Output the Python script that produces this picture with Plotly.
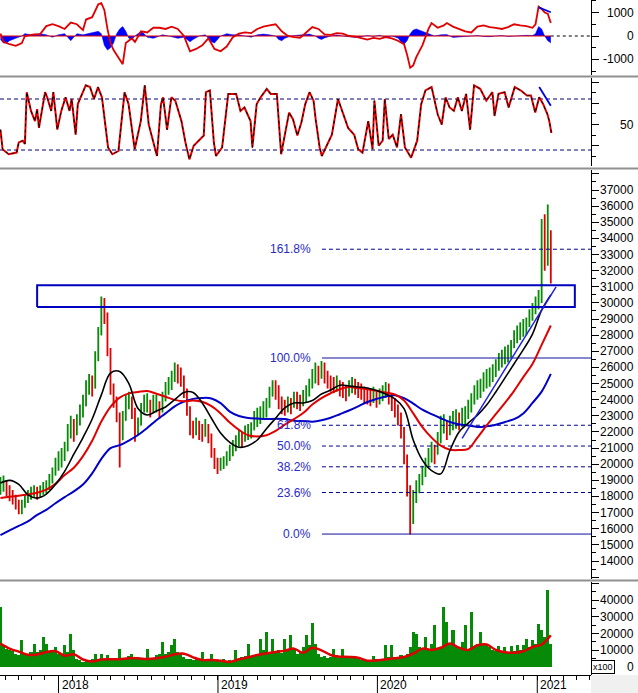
import pandas as pd
import plotly.graph_objects as go

BASE = pd.Timestamp("2017-08-21")   # first weekly bar

# ---------------- weekly price bars ----------------
close = [18600,18900,18500,18100,17900,17600,17200,17400,17700,18000,
         18200,18300,18100,18300,18500,18600,18900,19300,19900,20100,
         20400,20800,21800,22300,22000,22500,23000,23600,24400,25000,
         24700,26400,28000,29600,29200,27000,24800,24000,23000,21500,
         22700,23600,24000,23300,21900,22400,23300,23700,23800,23300,
         23700,23800,23200,23900,24500,24800,25200,25800,25600,25400,
         24600,23500,22300,22000,22400,22000,21900,22300,21800,20800,
         20200,19800,20000,20100,20300,20700,21000,21300,21600,21500,
         21900,22000,22100,22700,22900,23000,23300,23500,24200,24900,
         24700,23800,23600,23500,23700,23600,24000,23900,23800,24100,
         24300,24800,25300,25700,25500,25900,25600,25100,25000,24900,
         25000,24700,24600,24400,24700,24900,24800,24600,24500,24300,
         24200,24100,24300,24000,24200,24400,24700,24200,23800,23500,
         23000,22100,20500,18600,16600,17800,18400,18900,19300,19800,
         20400,20800,20600,21300,22300,22500,22000,22400,22700,22800,
         22600,22900,23000,23400,23800,24300,24600,24700,25200,25300,
         25400,25700,26000,26400,26600,26800,26900,27200,27800,28100,
         28300,28500,28600,29100,29500,29900,30200,34300,32600,34200,
         31800]
high = [19200,19300,19000,18700,18400,18100,17800,17800,18100,18400,
        18600,18700,18600,18700,18900,19000,19400,19800,20400,20800,
        21000,21400,22500,23000,22800,23100,23700,24300,25200,25600,
        25500,27000,28500,30400,30300,29400,27200,25000,24200,23200,
        23300,24300,24500,24200,23500,22900,23800,24300,24400,24000,
        24300,24300,23900,24500,25100,25400,25800,26300,26200,26000,
        25500,24700,23600,22700,22900,22700,22500,22800,22500,21900,
        21000,20400,20400,20500,20800,21200,21500,21800,22100,22000,
        22400,22500,22600,23300,23500,23600,23900,24100,24800,25200,
        25200,24900,24200,24000,24200,24100,24500,24500,24300,24600,
        24900,25300,25900,26300,26100,26400,26300,25800,25500,25400,
        25500,25200,25100,24900,25200,25400,25300,25100,25000,24800,
        24700,24600,24800,24500,24700,24900,25100,25000,24400,24100,
        23700,23200,22300,20600,18700,18400,19000,19400,19900,20400,
        21000,21400,21200,22000,23000,23100,22700,23000,23300,23400,
        23200,23500,23600,24000,24400,24900,25200,25300,25700,25900,
        26000,26200,26500,26900,27100,27300,27400,27700,28300,28600,
        28800,29000,29100,29600,30000,30400,30800,35200,35500,36100,
        34500]
low = [18100,18300,18000,17700,17500,17200,16900,16900,17300,17600,
       17800,17900,17800,17900,18100,18200,18400,18800,19300,19600,
       19800,20200,21000,21600,21400,21800,22400,22900,23800,24300,
       24200,25200,26800,28500,28700,26700,24300,23500,22600,19800,
       21500,22700,23400,22800,21400,21800,22400,23200,23200,22900,
       23200,23200,22800,23200,23900,24300,24600,25100,25000,24800,
       24100,23000,21800,21600,21800,21500,21400,21700,21300,20400,
       19700,19400,19600,19700,19900,20200,20500,20800,21100,21000,
       21400,21500,21600,22100,22300,22500,22800,22900,23600,24200,
       24000,23400,23100,23000,23200,23100,23500,23400,23300,23600,
       23800,24200,24700,25000,24900,25300,25000,24700,24500,24400,
       24500,24200,24100,23900,24200,24400,24300,24100,24000,23800,
       23700,23600,23800,23500,23700,23900,24100,23700,23300,22900,
       22400,21600,20000,18000,15650,16300,17600,18200,18700,19200,
       19800,20100,20000,20700,21600,21900,21500,21800,22100,22200,
       22100,22300,22400,22800,23200,23700,24000,24100,24500,24700,
       24800,25100,25400,25800,26000,26200,26300,26600,27200,27500,
       27700,27900,28000,28500,28900,29300,29600,30000,32000,32300,
       31200]

# ---------------- moving averages (every 3 weeks) ----------------
ma_black = [18830,19000,18750,18100,17900,18150,18750,19560,20620,21650,
            22800,24300,25650,25750,25000,23450,23050,23300,23550,24000,
            24450,24450,23800,22850,21930,21350,21050,21150,21500,22200,
            22850,23500,23800,23800,23950,24350,24600,24900,24850,24790,
            24730,24570,24350,24050,23450,21500,20250,19600,19400,20850,
            22000,22550,23040,23670,24480,25350,26230,27100,28070,29550,
            30500]
ma_red = [17900,17980,18050,18120,18230,18420,18780,19330,19780,20500,
          21450,22650,23560,24130,24390,24480,24540,24370,24180,23990,
          23900,23950,23870,23600,23150,22580,22130,21800,21720,21800,
          22070,22450,22800,23170,23700,24100,24400,24650,24780,24720,
          24650,24550,24440,24320,23950,23150,22300,21650,21150,20900,
          20880,20950,21650,22400,23100,23800,24550,25400,26220,27400,
          28600]
ma_blue = [15610,15900,16180,16450,16860,17170,17580,17960,18320,18740,
           19430,20330,21000,21180,21470,21810,22250,22730,23150,23590,
           23880,24050,24110,24080,23790,23260,22990,22870,22830,22800,
           22820,22800,22700,22680,22640,22720,22880,23100,23330,23590,
           23860,24040,24200,24280,24100,23760,23380,23100,22850,22620,
           22480,22400,22310,22350,22450,22620,22790,23150,23800,24500,
           25600]

# ---------------- Fibonacci, zone, trend ----------------
fib_low, fib_high = 15670, 26584
fib_pct = [0.0, 23.6, 38.2, 50.0, 61.8, 100.0, 161.8]
fib_labels = ["0.0%", "23.6%", "38.2%", "50.0%", "61.8%", "100.0%", "161.8%"]
fib_start = "2019-08-27"
zone_dates = ["2017-11-13", "2021-03-28"]
zone_vals = [29750, 31100]
trend_dates = ["2020-07-13", "2021-02-13"]
trend_vals = [21600, 31000]

# ---------------- top indicator panel ----------------
macd_week = [0,1,3,5,7,8,11,13,15,17,19,21,23,25,27,28,30,32,33,34,35,36,37,39,40,41,43,44,
             46,48,50,52,54,56,58,60,62,64,66,68,70,72,74,76,78,80,82,84,86,88,90,92,94,96,98,100,
             102,104,106,108,110,112,114,116,118,120,122,124,126,128,130,132,133,134,135,136,
             138,140,141,143,145,146,148,150,152,154,156,158,160,162,164,166,168,170,172,174,
             175,176,177,178,179,180]
macd_vals = [100,-250,-350,-420,-300,0,70,80,420,500,420,300,570,500,250,700,800,1350,1400,1100,
             300,-300,-600,-1000,-1200,-300,-100,-250,200,150,350,350,300,400,300,0,-650,-550,-400,
             -100,-550,-650,-450,-50,100,150,120,300,400,450,500,200,0,-50,-80,150,380,300,70,50,
             120,100,0,-30,-100,-150,-80,-120,-50,-100,-200,-350,-800,-1350,-1250,-900,-400,300,
             550,350,450,550,400,300,200,150,400,450,380,350,300,380,500,450,420,350,500,1250,
             1150,1000,950,550]
hist_week = [0,1,2,3,5,7,8,10,13,15,17,19,21,23,24,25,27,29,31,32,33,34,35,36,37,38,39,40,41,42,
             43,44,46,47,48,50,51,53,55,58,60,61,62,63,65,67,68,69,70,71,72,74,76,78,80,82,84,86,
             88,90,91,92,93,95,97,99,101,103,104,105,106,108,110,112,114,116,118,120,122,124,126,
             128,130,131,132,133,134,135,136,137,138,139,140,142,144,146,148,150,152,154,156,158,
             160,162,164,166,168,170,172,174,175,176,177,178,179,180]
hist_vals = [-150,-300,-300,-200,-100,0,100,50,100,50,-50,50,100,-200,-50,100,50,100,150,200,100,
             -400,-600,-500,-300,100,300,400,200,-100,-150,0,200,100,-50,-100,-50,50,0,-100,-50,
             -150,-250,-150,0,50,-100,-250,-300,-150,0,100,50,50,0,-50,50,80,50,0,-150,-200,-100,
             0,30,50,80,0,-100,-150,-80,0,40,0,-30,-60,-30,20,-20,30,-50,0,-80,-250,-350,-200,100,
             250,300,250,200,150,100,0,50,60,-60,-40,0,0,20,-20,-30,0,20,-20,0,10,30,20,100,400,
             300,0,-200,-300]
macd_seg_week = [176, 180]
macd_seg_vals = [1220, 1010]

# ---------------- oscillator panel ----------------
osc_week = [0.0,0.7,2.7,5.3,6.0,7.3,8.0,8.6,10.0,11.3,12.0,12.6,14.6,15.3,16.6,17.3,18.6,19.9,21.3,
            22.6,23.3,24.6,25.3,26.6,27.9,29.3,30.6,31.9,33.2,35.2,36.6,38.6,40.6,41.9,43.9,45.9,
            47.2,48.5,51.2,52.5,53.2,54.5,55.9,57.2,59.2,60.5,61.8,63.2,65.2,66.5,67.2,68.5,69.8,
            70.5,72.5,74.5,77.1,78.5,79.8,81.8,82.4,83.8,85.1,87.1,88.4,90.4,91.8,93.1,94.4,95.7,
            97.1,98.4,99.7,101.1,102.4,103.1,104.4,105.1,106.4,108.4,110.4,111.7,113.7,115.7,117.0,
            118.4,120.3,121.7,122.3,123.7,125.0,125.7,127.0,128.3,129.7,131.0,132.3,134.3,136.3,
            137.6,139.0,141.0,143.0,144.3,145.6,146.9,148.3,149.6,150.9,152.3,153.6,154.9,156.9,
            158.9,160.9,161.6,162.9,164.9,166.2,168.2,170.2,172.2,173.5,174.9,176.2,177.5,178.9,
            179.5,180.2]
osc_vals = [44,21,15,17,29,31,27,88,66,54,68,46,88,82,66,88,44,66,82,66,80,38,74,86,96,94,80,94,82,
            23,15,19,88,74,21,54,96,50,13,74,82,44,82,78,54,29,9,25,33,37,88,90,29,13,23,86,86,66,
            70,54,23,74,82,92,86,86,15,42,64,56,37,52,74,88,78,56,23,13,23,38,80,66,46,38,21,17,54,
            21,78,25,31,80,33,38,23,62,23,11,31,74,90,94,62,50,82,70,66,82,66,86,44,96,92,78,88,60,
            86,88,70,94,90,84,84,64,82,74,62,54,40]
osc_seg_week = [176.2, 180.0]
osc_seg_vals = [94, 72]

# ---------------- volume (x100) ----------------
volume = [36000,13000,11000,10000,9500,8000,7000,16000,7500,7000,
          9000,14000,9000,10000,18000,14000,9500,10000,12000,8000,
          7000,13000,9000,19800,10000,5000,4000,3000,3500,3200,
          5000,7500,4500,8000,4800,7000,4500,5000,4500,10600,
          5000,5200,6500,8000,5000,5000,4800,5500,11000,5500,
          5000,7000,8000,15000,7500,9000,13000,17000,9000,8000,
          6000,5000,4500,4000,4500,4200,9000,5000,4500,8000,
          4000,3500,3000,4500,3000,4000,3500,10000,5000,6000,
          6500,13800,6000,7000,7500,17000,10000,20800,9000,17000,
          9000,10000,8500,16500,9500,19000,11000,8000,9000,12000,
          19000,13000,26600,14000,7500,6000,6500,5500,6000,11000,
          7000,5500,10600,6000,6000,5500,6000,4500,4000,4000,
          3500,4200,6500,4500,4000,5000,13000,6000,13000,6000,
          6000,7000,6500,8000,12000,21000,20000,12000,11000,18000,
          10000,14000,25000,11000,12000,36000,27000,14000,22000,12000,
          11000,15000,25000,11000,33000,12000,14000,21000,14000,13000,
          12000,10000,9500,12500,9000,12000,9000,12500,9500,13000,
          10000,13000,17000,12000,16000,14000,26000,22000,18000,46000,
          14000]
vol_ma = [14000,11000,9200,7300,7500,9000,9500,6800,7600,4500,
          3300,4500,4600,4700,5300,5200,4800,5200,6100,7600,
          8000,5800,4200,4200,3800,3000,4600,5800,7200,8200,
          9000,9800,11000,8500,11500,10000,7200,6200,6000,5500,
          3800,4000,4600,5200,6000,8000,11000,10200,11500,14000,
          11500,10200,13000,13500,10200,8800,8600,9400,12000,13500,
          19000]

year_ticks = ["2018-01-01", "2019-01-01", "2020-01-01", "2021-01-01"]
year_labels = ["2018", "2019", "2020", "2021"]
price_ticks = list(range(14000, 37001, 1000))
p1_ticks = [1000, 0, -1000]
vol_ticks = [0, 10000, 20000, 30000, 40000]

# ------------------------------------------------------------------
W, H = 638, 693
PH = 675.0                      # plot-area height (px)
def py(p):                      # pixel row -> paper y
    return (PH - p) / PH
XR = 591.0 / W                  # right edge of plot area (paper)

def wdate(w):
    return BASE + pd.Timedelta(days=7 * w)

dates = [wdate(i) for i in range(len(close))]
opens = [close[0]] + close[:-1]
highs = [max(h, o, c) for h, o, c in zip(high, opens, close)]
lows = [min(l, o, c) for l, o, c in zip(low, opens, close)]
ma_dates = [wdate(3 * k) for k in range(len(ma_black))]
last_date = dates[-1]
x_end = BASE + pd.Timedelta(days=1352)
x_start = BASE - pd.Timedelta(days=1)

fig = go.Figure()

# ---- panel 1 ----
fig.add_trace(go.Scatter(x=[wdate(w) for w in hist_week], y=hist_vals, mode="lines",
                         line=dict(color="#0000ff", width=0.5), fill="tozeroy",
                         fillcolor="#0000ff", yaxis="y"))
fig.add_trace(go.Scatter(x=[BASE, last_date], y=[0, 0], mode="lines",
                         line=dict(color="#e00000", width=1.2), yaxis="y"))
fig.add_trace(go.Scatter(x=[last_date, x_end], y=[0, 0], mode="lines",
                         line=dict(color="#000000", width=1, dash="3px,3px"), yaxis="y"))
fig.add_trace(go.Scatter(x=[wdate(w) for w in macd_week], y=macd_vals, mode="lines",
                         line=dict(color="#e00000", width=1.8), yaxis="y"))
fig.add_trace(go.Scatter(x=[wdate(w) for w in macd_seg_week], y=macd_seg_vals, mode="lines",
                         line=dict(color="#0000dd", width=1.8), yaxis="y"))

# ---- panel 2 ----
for lv in (80, 20):
    fig.add_trace(go.Scatter(x=[x_start, x_end], y=[lv, lv], mode="lines",
                             line=dict(color="#000080", width=1, dash="4px,3px"), yaxis="y2"))
osc_dates = [wdate(w) for w in osc_week]
fig.add_trace(go.Scatter(x=osc_dates, y=osc_vals, mode="lines",
                         line=dict(color="#e00000", width=2), yaxis="y2"))
fig.add_trace(go.Scatter(x=osc_dates, y=osc_vals, mode="lines",
                         line=dict(color="#000000", width=1, dash="3px,3px"), yaxis="y2"))
fig.add_trace(go.Scatter(x=[wdate(w) for w in osc_seg_week], y=osc_seg_vals, mode="lines",
                         line=dict(color="#0000dd", width=1.8), yaxis="y2"))

# ---- panel 3: price ----
rng = fib_high - fib_low
for pct, lab in zip(fib_pct, fib_labels):
    lv = fib_low + pct / 100.0 * rng
    solid = pct in (0.0, 100.0)
    fig.add_trace(go.Scatter(x=[pd.Timestamp(fib_start), x_end], y=[lv, lv], mode="lines",
                             line=dict(color="#1010a0" if solid else "#000090", width=1,
                                       dash=None if solid else "4px,3px"), yaxis="y3"))
    fig.add_annotation(x=pd.Timestamp(fib_start), y=lv, xref="x", yref="y3", text=lab,
                       xanchor="right", yanchor="middle", xshift=-9, showarrow=False,
                       font=dict(family="Arial, Liberation Sans", size=12, color="#2a2ac8"))

fig.add_trace(go.Ohlc(x=dates, open=opens, high=highs, low=lows, close=close,
                      increasing=dict(line=dict(color="#078a07", width=1.8)),
                      decreasing=dict(line=dict(color="#e00000", width=1.8)),
                      tickwidth=0.1, xaxis="x", yaxis="y3"))
fig.add_trace(go.Scatter(x=ma_dates, y=ma_blue, mode="lines", line_shape="spline",
                         line=dict(color="#0000c8", width=2), yaxis="y3"))
fig.add_trace(go.Scatter(x=ma_dates, y=ma_red, mode="lines", line_shape="spline",
                         line=dict(color="#e00000", width=2), yaxis="y3"))
fig.add_trace(go.Scatter(x=ma_dates, y=ma_black, mode="lines", line_shape="spline",
                         line=dict(color="#000000", width=1.6), yaxis="y3"))
z0, z1 = pd.Timestamp(zone_dates[0]), pd.Timestamp(zone_dates[1])
fig.add_trace(go.Scatter(x=[z0, z1, z1, z0, z0],
                         y=[zone_vals[0], zone_vals[0], zone_vals[1], zone_vals[1], zone_vals[0]],
                         mode="lines", line=dict(color="#0000c0", width=2), yaxis="y3"))
fig.add_trace(go.Scatter(x=[pd.Timestamp(d) for d in trend_dates], y=trend_vals, mode="lines",
                         line=dict(color="#2020e0", width=1.5), yaxis="y3"))

# ---- panel 4: volume ----
fig.add_trace(go.Bar(x=dates, y=volume, width=7 * 24 * 3600 * 1000,
                     marker=dict(color="#078a07", line=dict(width=0)), yaxis="y4"))
fig.add_trace(go.Scatter(x=ma_dates, y=vol_ma, mode="lines", line_shape="spline",
                         line=dict(color="#dd0000", width=2.5), yaxis="y4"))

# ---- axes ----
def yax(dom, rng_, dtick, minor):
    return dict(domain=dom, range=rng_, side="right", anchor="x", showline=True,
                linecolor="#000000", linewidth=1, ticks="outside", ticklen=7,
                tickcolor="#000000", dtick=dtick, tick0=0, showticklabels=False,
                showgrid=False, zeroline=False, fixedrange=True,
                minor=dict(dtick=minor, ticks="outside", ticklen=4, tickcolor="#000000",
                           showgrid=False))

fig.update_layout(
    width=W, height=H, margin=dict(l=0, r=0, t=0, b=18),
    paper_bgcolor="#ffffff", plot_bgcolor="#ffffff", showlegend=False,
    bargap=0, hovermode=False,
    xaxis=dict(domain=[0, XR], anchor="y4", type="date", range=[x_start, x_end],
               showline=True, linecolor="#000000", linewidth=1, ticks="outside",
               ticklen=4, tickcolor="#000000", dtick="M1", tick0="2018-01-01",
               showticklabels=False, showgrid=False, zeroline=False,
               rangeslider=dict(visible=False)),
    yaxis=yax([py(75), 1.0], [-1660, 1532], 1000, 500),
    yaxis2=yax([py(166), py(78)], [1.2, 104.7], 25, 12.5),
    yaxis3=yax([py(579), py(170)], [12884, 38240], 1000, 500),
    yaxis4=yax([0, py(582)], [-4790, 50900], 10000, 5000),
)

lab_font = dict(family="Arial, Liberation Sans", size=12, color="#000000")
LX = 636.0 / W
for v in p1_ticks:
    fig.add_annotation(x=LX, y=v, xref="paper", yref="y", text=str(v), xanchor="right",
                       yanchor="middle", showarrow=False, font=lab_font)
fig.add_annotation(x=LX, y=50, xref="paper", yref="y2", text="50", xanchor="right",
                   yanchor="middle", showarrow=False, font=lab_font)
for v in price_ticks:
    fig.add_annotation(x=LX, y=v, xref="paper", yref="y3", text=str(v), xanchor="right",
                       yanchor="middle", showarrow=False, font=lab_font)
for v in vol_ticks:
    fig.add_annotation(x=LX, y=v, xref="paper", yref="y4", text=str(v), xanchor="right",
                       yanchor="middle", showarrow=False, font=lab_font)
fig.add_annotation(x=602.5 / W, y=py(667), xref="paper", yref="paper", text="x100",
                   xanchor="center", yanchor="middle", showarrow=False,
                   bordercolor="#000000", borderwidth=1, borderpad=1, bgcolor="#ffffff",
                   font=dict(family="Arial, Liberation Sans", size=9, color="#000000"))

# year ticks + labels
for d, lab in zip(year_ticks, year_labels):
    fig.add_shape(type="line", xref="x", yref="paper", x0=d, x1=d, y0=0, y1=py(693),
                  line=dict(color="#000000", width=1))
    fig.add_annotation(x=d, y=py(685), xref="x", yref="paper", text=lab, xanchor="left",
                       yanchor="middle", xshift=1, showarrow=False, font=lab_font)

# bottom-right grey box and panel separators
fig.add_shape(type="rect", xref="paper", yref="paper", x0=XR, x1=1, y0=py(693), y1=0,
              fillcolor="#f0f0f0", line=dict(width=0))
for p in (76.5, 168.5, 580.5):
    fig.add_shape(type="line", xref="paper", yref="paper", x0=0, x1=1, y0=py(p), y1=py(p),
                  line=dict(color="#909090", width=2))

fig.write_html("out.html", config={"displayModeBar": False, "staticPlot": True},
               post_script="document.body.style.margin='0';document.body.style.overflow='hidden';")
